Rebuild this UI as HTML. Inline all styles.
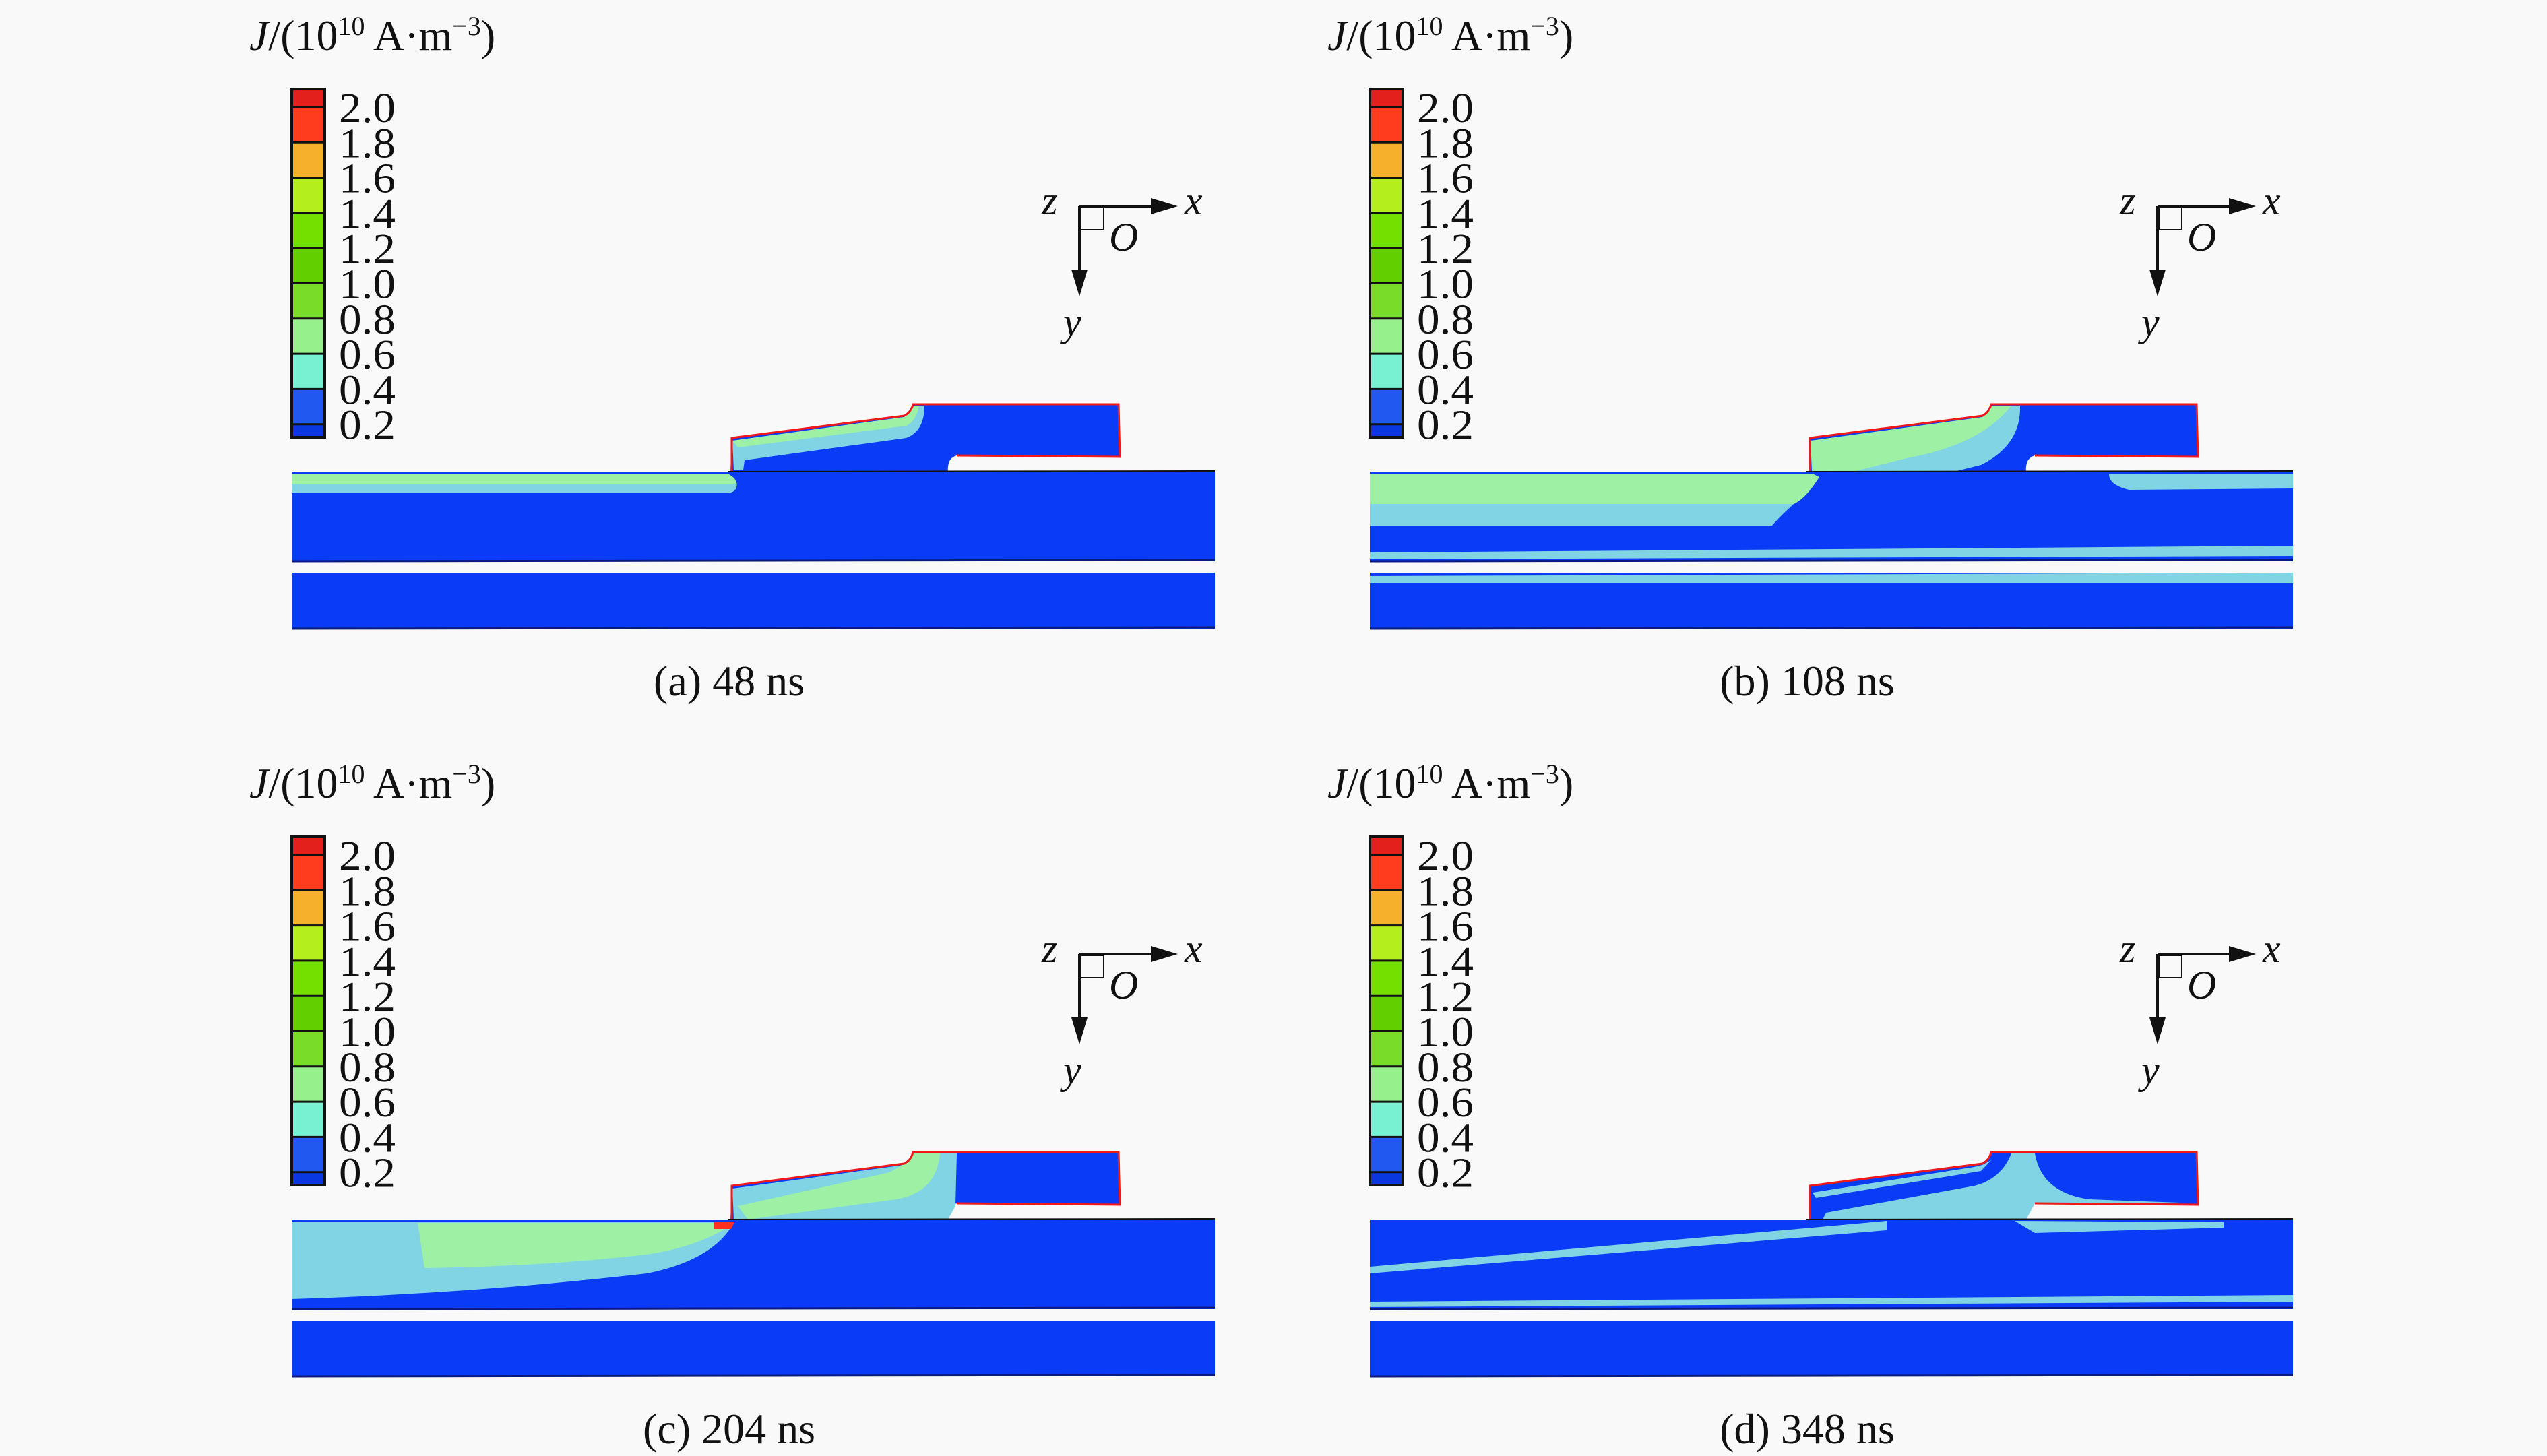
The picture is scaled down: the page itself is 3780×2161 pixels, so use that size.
<!DOCTYPE html>
<html><head><meta charset="utf-8"><style>
html,body{margin:0;padding:0;background:#f9f9f9;}
svg{display:block;}
text{font-family:"Liberation Serif",serif;fill:#111;}
</style></head><body>
<svg id="fig" width="3780" height="2161" viewBox="0 0 3780 2161" xmlns="http://www.w3.org/2000/svg">
<rect width="3780" height="2161" fill="#f9f9f9"/>
</svg>
<script>
const levelLabels = ["2.0","1.8","1.6","1.4","1.2","1.0","0.8","0.6","0.4","0.2"];
const bandColors = ["#e4201c","#ff3c1e","#f6b02c","#b4ee1c","#74e000","#62d000","#78dc28","#96f08c","#78f0d2","#2058f0","#0a38e0"];
const captions = ["(a) 48 ns","(b) 108 ns","(c) 204 ns","(d) 348 ns"];
const panelOffsets = [[0,0],[1600,0],[0,1110],[1600,1110]];

const NS="http://www.w3.org/2000/svg";
const svg=document.getElementById('fig');
function mk(tag,attrs,parent){const e=document.createElementNS(NS,tag);for(const k in attrs)e.setAttribute(k,attrs[k]);(parent||svg).appendChild(e);return e;}

const BLUE="#0a3cf8", AQUA="#80d4e4", LG="#9ef0a4";
const overlays=[
 [["M433,703 L1080,703 Q1098,712 1092,726 L433,726 Z",LG],["M433,718 L1092,718 Q1095,730 1080,732 L433,732 Z",AQUA],
  ["M1087,654 L1342,619 Q1352,612 1356,602 L1372,602 Q1372,640 1345,650 L1105,683 L1103,698 L1089,698 Z",AQUA],
  ["M1087,654 L1342,619 Q1352,612 1356,602 L1364,602 Q1360,625 1345,632 L1095,664 Z",LG]],
 [["M433,703 L1090,703 L1100,708 Q1080,740 1062,748 L433,748 Z",LG],["M433,748 L1062,748 Q1040,768 1030,780 L433,780 Z",AQUA],
  ["M1087,654 L1342,619 Q1352,612 1356,602 L1388,602 Q1390,660 1330,680 L1245,690 L1242,700 L1110,700 L1089,700 Z",LG],
  ["M1150,700 L1230,680 Q1340,660 1385,602 L1398,602 Q1400,660 1340,690 L1300,700 Z",AQUA],
  ["M1530,704 L1803,704 L1803,725 L1560,727 Q1530,720 1530,704 Z",AQUA],
  ["M433,820 L1803,810 L1803,825 L433,830 Z",AQUA],["M433,855 L1803,850 L1803,866 L433,866 Z",AQUA]],
 [["M433,703 L1090,703 Q1060,760 960,780 Q700,810 433,818 Z",AQUA],["M620,705 L1090,705 Q1040,740 960,752 Q800,770 630,772 Z",LG],
  ["M1060,704 L1090,704 L1085,714 L1060,714 Z","#ff3020"],
  ["M1087,654 L1342,619 Q1352,612 1356,602 L1420,602 L1418,680 L1407,700 L1100,700 L1089,700 Z",AQUA],
  ["M1095,680 L1320,630 Q1352,612 1356,602 L1395,602 Q1390,660 1330,670 L1110,700 Z",LG]],
 [["M433,770 L1090,712 L1200,702 L1200,716 L433,780 Z",AQUA],["M1390,702 L1700,704 L1700,712 L1420,720 Z",AQUA],
  ["M1110,690 L1330,650 Q1370,640 1385,602 L1420,602 Q1430,660 1500,670 L1662,676 L1420,676 L1407,700 L1105,700 Z",AQUA],
  ["M1090,660 L1330,622 L1342,619 L1355,612 L1340,628 L1095,668 Z",AQUA],
  ["M433,822 L1803,812 L1803,822 L433,830 Z",AQUA]]
];

panelOffsets.forEach((off,i)=>{
  const g=mk('g',{transform:`translate(${off[0]},${off[1]})`});
  
  
  const t=mk('text',{x:370,y:74,'font-size':64},g);
  
  
  t.innerHTML='<tspan font-style="italic">J</tspan>/(10<tspan font-size="40" dy="-22">10</tspan><tspan dy="22"> A·m</tspan><tspan font-size="40" dy="-22">−3</tspan><tspan dy="22">)</tspan>';
  const cb=mk('g',{},g);
  
  
  const top=132, step=52.3, x0=433, w=49;
  const ys=[top];
  for(let k=0;k<levelLabels.length;k++) ys.push(top+27+step*k);
  ys.push(649);
  bandColors.forEach((c,k)=>{
    const r=mk('rect',{x:x0,y:ys[k],width:w,height:ys[k+1]-ys[k],fill:c},cb);
    
    
  });
  for(let k=1;k<ys.length-1;k++) mk('line',{x1:x0,x2:x0+w,y1:ys[k],y2:ys[k],stroke:'#111','stroke-width':3},cb);
  mk('rect',{x:x0,y:top,width:w,height:649-top,fill:'none',stroke:'#111','stroke-width':4},cb);
  levelLabels.forEach((l,k)=>{
    const tx=mk('text',{x:503,y:ys[k+1]+22,'font-size':62,textLength:84,lengthAdjust:'spacingAndGlyphs'},cb);
    
    
    tx.textContent=l;
  });
  const ax=mk('g',{},g);
  
  
  mk('line',{x1:1602,y1:306,x2:1712,y2:306,stroke:'#111','stroke-width':4},ax);
  mk('polygon',{points:'1748,306 1708,294 1708,318',fill:'#111'},ax);
  mk('line',{x1:1602,y1:306,x2:1602,y2:405,stroke:'#111','stroke-width':4},ax);
  mk('polygon',{points:'1602,440 1590,400 1614,400',fill:'#111'},ax);
  mk('rect',{x:1604,y:308,width:34,height:33,fill:'none',stroke:'#111','stroke-width':2},ax);
  [['z',1546,318],['x',1758,318],['O',1646,372],['y',1578,498]].forEach(a=>{
    const tx=mk('text',{x:a[1],y:a[2],'font-size':60,'font-style':'italic'},ax);
    
    
    tx.textContent=a[0];
  });
  const geo=mk('g',{},g);
  
  
  mk('rect',{x:433,y:700,width:1370,height:133,fill:BLUE},geo);
  mk('rect',{x:433,y:850,width:1370,height:83,fill:BLUE},geo);
  const raised="M1084,701 L1086,650 L1342,617 Q1352,612 1355,600 L1660,600 L1662,678 L1420,676 Q1405,680 1407,701 Z";
  mk('path',{d:raised,fill:BLUE},geo);
  overlays[i].forEach(o=>mk('path',{d:o[0],fill:o[1]},geo));
  mk('path',{d:"M1086,700 L1086,650 L1342,617 Q1352,612 1355,600 L1660,600 L1662,678 L1420,676",fill:'none',stroke:'#f01818','stroke-width':3},geo);
  mk('line',{x1:1080,y1:700,x2:1803,y2:699,stroke:'#111','stroke-width':2},geo);
  mk('line',{x1:433,y1:833,x2:1803,y2:831,stroke:'#0a1a80','stroke-width':3},geo);
  mk('line',{x1:433,y1:933,x2:1803,y2:931,stroke:'#0a1a80','stroke-width':3},geo);
  const cap=mk('text',{x:1082,y:1032,'font-size':64,'text-anchor':'middle'},g);
  
  
  cap.textContent=captions[i];
});
</script>
</body></html>
